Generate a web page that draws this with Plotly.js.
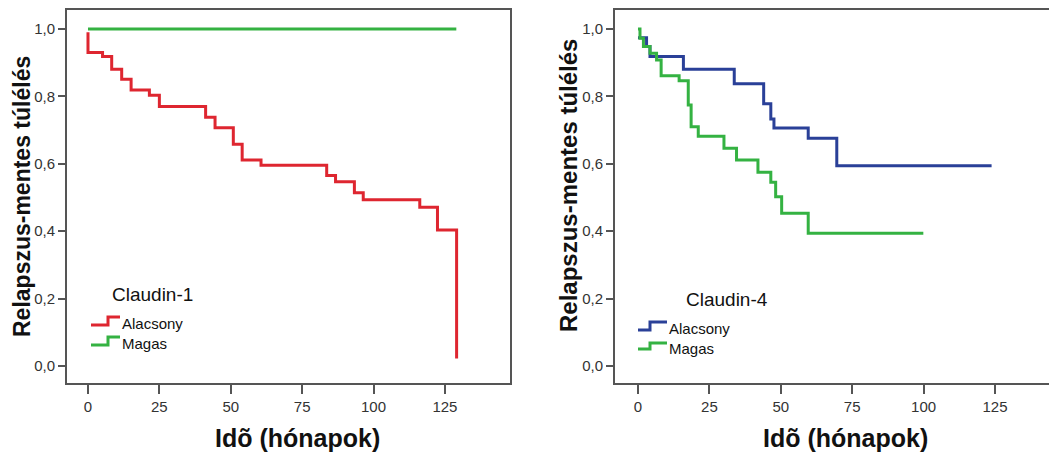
<!DOCTYPE html>
<html>
<head>
<meta charset="utf-8">
<script src="https://cdn.plot.ly/plotly-3.0.1.min.js"></script>
<style>html,body{margin:0;padding:0;background:#fff;}#chart{width:1049px;height:453px;}</style>
</head>
<body>
<div id="chart"></div>
<script>
// ---- Data ----
const xTicks = [0, 25, 50, 75, 100, 125];
const yTicks = [0, 0.2, 0.4, 0.6, 0.8, 1.0];

// Claudin-1
const c1LowTime = [0, 0, 5.1, 8.3, 11.8, 15.1, 21.5, 25.0, 41.2, 44.5, 50.9, 54.0, 60.6, 83.6, 86.7, 93.3, 96.4, 116.2, 122.4, 129.1];
const c1LowSurv = [0.99, 0.93, 0.918, 0.88, 0.851, 0.819, 0.803, 0.770, 0.738, 0.707, 0.658, 0.611, 0.596, 0.565, 0.547, 0.514, 0.493, 0.471, 0.404, 0.023];
const c1HighTime = [0, 129];
const c1HighSurv = [1.0, 1.0];

// Claudin-4
const c4LowTime = [0, 3.0, 4.2, 15.9, 33.7, 44.0, 46.5, 47.6, 59.6, 69.6, 123.8];
const c4LowSurv = [0.974, 0.948, 0.918, 0.880, 0.837, 0.778, 0.733, 0.706, 0.676, 0.594, 0.594];
const c4HighTime = [0, 0.7, 1.9, 4.2, 6.5, 8.1, 14.4, 17.6, 18.6, 21.1, 30.1, 34.5, 42.0, 46.5, 48.2, 50.3, 59.6, 99.9];
const c4HighSurv = [1.0, 0.972, 0.948, 0.928, 0.908, 0.861, 0.846, 0.774, 0.710, 0.682, 0.646, 0.611, 0.575, 0.545, 0.502, 0.453, 0.394, 0.394];

const groupNames = ['Alacsony', 'Magas'];
const panelNames = ['Claudin-1', 'Claudin-4'];
const xTitle = 'Idõ (hónapok)';
const yTitle = 'Relapszus-mentes túlélés';

// ---- Styling ----
const W = 1049, H = 453;
const RED = 'rgb(222,38,48)', GREEN = 'rgb(52,178,66)', BLUE = 'rgb(42,64,152)';
const FRAME = '#555';
const FONT = 'Arial, "Liberation Sans", sans-serif';
const px = x => x / W;
const py = y => 1 - y / H;

function step(x, y, color, xa, ya) {
  return {x: x, y: y, type: 'scatter', mode: 'lines', xaxis: xa, yaxis: ya,
          line: {shape: 'hv', color: color, width: 3}, hoverinfo: 'skip', showlegend: false};
}

const traces = [
  step(c1HighTime, c1HighSurv, GREEN, 'x', 'y'),
  step(c1LowTime, c1LowSurv, RED, 'x', 'y'),
  step(c4LowTime, c4LowSurv, BLUE, 'x2', 'y2'),
  step(c4HighTime, c4HighSurv, GREEN, 'x2', 'y2')
];

function xAxis(domain, range) {
  return {domain: domain, range: range, tickvals: xTicks, ticks: 'outside', ticklen: 9, tickwidth: 2,
          tickcolor: FRAME, showline: true, linecolor: FRAME, linewidth: 2, mirror: true,
          showgrid: false, zeroline: false, tickfont: {family: FONT, size: 15, color: '#333'}, fixedrange: true};
}
function yAxis(domain, anchor, mirror) {
  return {domain: domain, range: [-0.05, 1.056], anchor: anchor, tickvals: yTicks, tickformat: '.1f',
          ticks: 'outside', ticklen: 7, tickwidth: 2, tickcolor: FRAME, showline: true, linecolor: FRAME,
          linewidth: 2, mirror: mirror, showgrid: false, zeroline: false,
          tickfont: {family: FONT, size: 15, color: '#333'}, fixedrange: true};
}

function ann(text, x, y, size, bold, xanchor, angle) {
  return {text: bold ? '<b>' + text + '</b>' : text, xref: 'paper', yref: 'paper', x: px(x), y: py(y),
          xanchor: xanchor || 'center', yanchor: 'middle', showarrow: false, textangle: angle || 0,
          font: {family: FONT, size: size, color: '#111'}};
}

function sym(x0, yl, xm, yh, x1, color) {
  return {type: 'path', xref: 'paper', yref: 'paper',
          path: 'M ' + px(x0) + ' ' + py(yl) + ' L ' + px(xm) + ' ' + py(yl) + ' L ' + px(xm) + ' ' + py(yh) + ' L ' + px(x1) + ' ' + py(yh),
          line: {color: color, width: 3}};
}

const layout = {
  width: W, height: H, margin: {l: 0, r: 0, t: 0, b: 0},
  paper_bgcolor: '#fff', plot_bgcolor: '#fff', separators: ',.', showlegend: false,
  xaxis: Object.assign(xAxis([px(67), px(510)], [-7.35, 147.8]), {anchor: 'y'}),
  yaxis: yAxis([1 - 383 / H, 1 - 10 / H], 'x', true),
  xaxis2: Object.assign(xAxis([px(615), 1], [-8.05, 143.9]), {anchor: 'y2'}),
  yaxis2: yAxis([1 - 383 / H, 1 - 10 / H], 'x2', false),
  annotations: [
    ann(yTitle, 22, 197, 23, true, 'center', -90),
    ann(yTitle, 568, 186, 24, true, 'center', -90),
    ann(xTitle, 297, 438, 25, true),
    ann(xTitle, 845, 438, 25, true),
    ann(panelNames[0], 152, 294, 19, false),
    ann(groupNames[0], 120, 323, 15, false, 'left'),
    ann(groupNames[1], 120, 343, 15, false, 'left'),
    ann(panelNames[1], 727, 299, 19, false),
    ann(groupNames[0], 667, 328, 15, false, 'left'),
    ann(groupNames[1], 667, 348, 15, false, 'left')
  ],
  shapes: [
    sym(91, 325, 108, 317, 120, RED),
    sym(91, 345, 108, 337, 120, GREEN),
    sym(638, 330, 650, 322, 667, BLUE),
    sym(638, 349, 650, 343, 667, GREEN)
  ]
};

Plotly.newPlot('chart', traces, layout, {staticPlot: true, displayModeBar: false});
</script>
</body>
</html>
